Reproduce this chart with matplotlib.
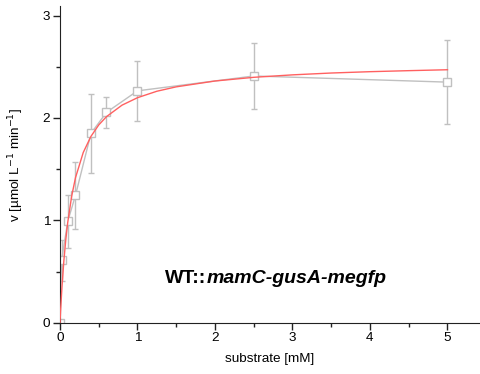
import matplotlib.pyplot as plt
from matplotlib.ticker import MultipleLocator

plt.rcParams['font.family'] = ['Liberation Sans', 'DejaVu Sans']

# measured points
substrate = [0.0, 0.02, 0.1, 0.2, 0.4, 0.6, 1.0, 2.5, 5.0]
velocity = [0.0, 0.61, 0.99, 1.245, 1.85, 2.055, 2.265, 2.41, 2.35]
velocity_err = [0.0, 0.2, 0.26, 0.325, 0.385, 0.15, 0.29, 0.32, 0.41]

# fitted curve
fit_x = [0.0, 0.01, 0.025, 0.05, 0.075, 0.1, 0.15, 0.2, 0.3, 0.4, 0.5, 0.6, 0.8,
         1.0, 1.25, 1.5, 2.0, 2.5, 3.0, 3.5, 4.0, 4.5, 5.0]
fit_y = [0.0, 0.15, 0.345, 0.607, 0.814, 0.981, 1.234, 1.417, 1.663, 1.821, 1.932,
         2.013, 2.125, 2.198, 2.261, 2.304, 2.361, 2.397, 2.421, 2.439, 2.452, 2.462, 2.471]

fig = plt.figure(figsize=(4.8, 3.74), dpi=100)
ax = fig.add_axes([0.125, 0.137, 0.875, 0.846])

gray = '#c0c0c0'
ax.errorbar(substrate, velocity, yerr=velocity_err, color=gray, lw=1,
            marker='s', markersize=5.8, markerfacecolor='white', markeredgecolor=gray,
            markeredgewidth=1, capsize=2, elinewidth=1, capthick=1, zorder=2)
ax.plot(fit_x, fit_y, color='#ff6060', lw=1, zorder=3)

ax.set_xlim(0, 5.42)
ax.set_ylim(0, 3.09)
ax.spines['top'].set_visible(False)
ax.spines['right'].set_visible(False)
for s in ['left', 'bottom']:
    ax.spines[s].set_color('#222222')
ax.xaxis.set_major_locator(MultipleLocator(1))
ax.xaxis.set_minor_locator(MultipleLocator(0.5))
ax.yaxis.set_major_locator(MultipleLocator(1))
ax.yaxis.set_minor_locator(MultipleLocator(0.5))
ax.tick_params(which='major', length=5, width=1, color='#222222', labelsize=9.7, pad=2)
ax.tick_params(which='minor', length=3, width=1, color='#222222')

ax.set_xlabel('substrate [mM]', fontsize=9.7, labelpad=6)
ax.set_ylabel('v [µmol L$^{-1}$ min$^{-1}$]', fontsize=9.7, labelpad=12)

t = ax.text(1.355, 0.39, 'WT::', fontsize=14, fontweight='bold')
ax.annotate('mamC-gusA-megfp', xy=(1, 0), xycoords=t, fontsize=14,
            fontweight='bold', fontstyle='italic', va='bottom')

fig.savefig('out.png', dpi=100)
